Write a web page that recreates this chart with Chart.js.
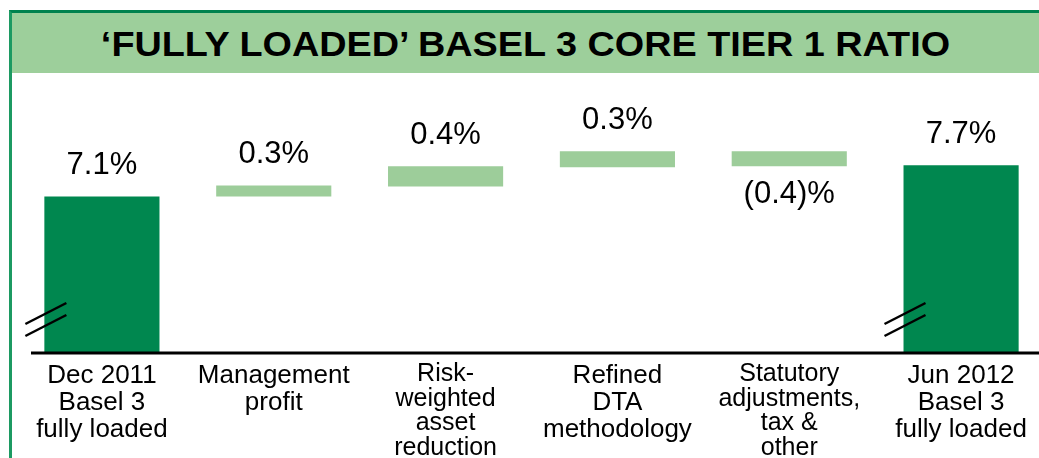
<!DOCTYPE html>
<html>
<head>
<meta charset="utf-8">
<script src="https://cdn.jsdelivr.net/npm/chart.js@4"></script>
<style>
  body { margin: 0; width: 1039px; height: 458px; overflow: hidden; background: #fff; font-family: "Liberation Sans", Arial, sans-serif; }
  .frame { position: absolute; left: 9px; top: 10px; width: 1060px; height: 470px; border-left: 3px solid #1c9a62; border-top: 3px solid #00824e; }
  .banner { position: absolute; left: 12px; top: 13px; width: 1040px; height: 60px; background: #9dcf9b; }
  .banner h1 { margin: 0; width: 1027px; text-align: center; line-height: 62px; font-size: 35px; font-weight: bold; color: #000; transform: scaleX(1.08); }
  .wrap { position: absolute; left: 0; top: 73px; width: 1055px; height: 396px; }
</style>
</head>
<body>
<div class="frame"></div>
<div class="banner"><h1>‘FULLY LOADED’ BASEL 3 CORE TIER 1 RATIO</h1></div>
<div class="wrap"><canvas id="waterfall"></canvas></div>
<script>
//! data
const categories = [
  ['Dec 2011', 'Basel 3', 'fully loaded'],
  ['Management', 'profit'],
  ['Risk-', 'weighted', 'asset', 'reduction'],
  ['Refined', 'DTA', 'methodology'],
  ['Statutory', 'adjustments,', 'tax &', 'other'],
  ['Jun 2012', 'Basel 3', 'fully loaded']
];
// bar start / end as drawn (null start = total bar from the broken axis)
const barStart = [null, 7.1, 7.29, 7.66, 7.68, null];
const barEnd = [7.1, 7.31, 7.68, 7.97, 7.97, 7.7];
const valueLabels = ['7.1%', '0.3%', '0.4%', '0.3%', '(0.4)%', '7.7%'];
const isTotal = [true, false, false, false, false, true];
const isNegative = [false, false, false, false, true, false];

const darkGreen = '#00874f';
const lightGreen = '#9dcd9a';

//! plugin: value labels, axis line, break marks
const extras = {
  id: 'extras',
  afterDatasetsDraw(chart) {
    const { ctx, chartArea } = chart;
    const meta = chart.getDatasetMeta(0);
    ctx.save();

    // axis line
    ctx.strokeStyle = '#000';
    ctx.lineWidth = 3;
    ctx.beginPath();
    ctx.moveTo(chartArea.left + 15, chartArea.bottom);
    ctx.lineTo(chart.width, chartArea.bottom);
    ctx.stroke();

    // break marks on total bars
    ctx.lineWidth = 2.5;
    meta.data.forEach((bar, i) => {
      if (!isTotal[i]) return;
      const left = bar.x - bar.width / 2;
      [0, 12].forEach(off => {
        ctx.beginPath();
        ctx.moveTo(left - 19, chartArea.bottom - 29 + off);
        ctx.lineTo(left + 22, chartArea.bottom - 50 + off);
        ctx.stroke();
      });
    });

    // value labels
    ctx.fillStyle = '#000';
    ctx.font = '31px "Liberation Sans", Arial, sans-serif';
    ctx.textAlign = 'center';
    ctx.textBaseline = 'middle';
    meta.data.forEach((bar, i) => {
      const top = Math.min(bar.y, bar.base);
      const bottom = Math.max(bar.y, bar.base);
      const y = isNegative[i] ? bottom + 28 : top - 31;
      ctx.fillText(valueLabels[i], bar.x, y);
    });
    ctx.restore();
  }
};

const ctx = document.getElementById('waterfall').getContext('2d');

new Chart(ctx, {
  type: 'bar',
  data: {
    labels: categories,
    datasets: [{
      data: barEnd.map((v, i) => barStart[i] === null ? v : [barStart[i], v]),
      backgroundColor: isTotal.map(t => t ? darkGreen : lightGreen),
      borderWidth: 0,
      barPercentage: 0.67,
      categoryPercentage: 1
    }]
  },
  options: {
    responsive: true,
    maintainAspectRatio: false,
    animation: false,
    layout: { padding: { left: 16, right: 8, top: 7, bottom: 0 } },
    plugins: {
      legend: { display: false },
      tooltip: { enabled: false }
    },
    scales: {
      x: {
        grid: { display: false, drawTicks: false },
        border: { display: false },
        ticks: {
          color: '#000',
          padding: 9,
          maxRotation: 0,
          autoSkip: false,
          font: (c) => ({
            family: '"Liberation Sans", Arial, sans-serif',
            size: categories[c.index].length > 3 ? 25 : 26,
            lineHeight: categories[c.index].length > 3 ? '24.5px' : '27px'
          })
        }
      },
      y: {
        display: false,
        min: 4.08,
        max: 9.345
      }
    }
  },
  plugins: [extras]
});
</script>
</body>
</html>
